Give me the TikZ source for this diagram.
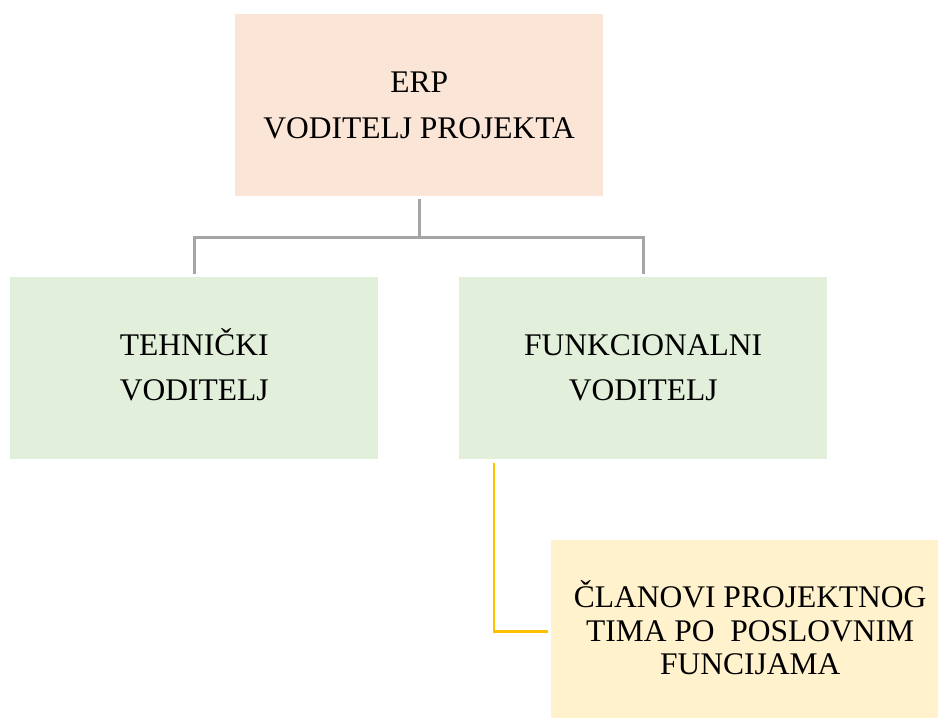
\documentclass[tikz,border=0pt]{standalone}
\usepackage{fontspec}
\setmainfont{Liberation Serif}
\newcommand{\dropfix}[1]{\rule[-#1]{0pt}{0pt}}
\begin{document}
\begin{tikzpicture}[x=1pt,y=-1pt,
  box/.style={draw=none,minimum width=368pt,minimum height=182pt,inner sep=0pt,align=center,anchor=north west},
  bigtext/.style={font=\fontsize{31.5}{45.5}\selectfont},
  smalltext/.style={font=\fontsize{31.5}{33.5}\selectfont},
  grayline/.style={draw=graycon,line width=3pt},
  goldline/.style={draw=goldcon,line width=2.6pt}]
\definecolor{peach}{HTML}{FBE5D6}
\definecolor{lgreen}{HTML}{E2EFDA}
\definecolor{lyellow}{HTML}{FFF2CC}
\definecolor{graycon}{HTML}{A5A5A5}
\definecolor{goldcon}{HTML}{FFC000}
\useasboundingbox (0,0) rectangle (938,718);
\node[box,bigtext,fill=peach] (erp) at (235,14) {ERP\\VODITELJ PROJEKTA};
\node[box,bigtext,fill=lgreen] (teh) at (10,277) {TEHNIČKI\\VODITELJ\dropfix{7pt}};
\node[box,bigtext,fill=lgreen] (funk) at (459,277) {FUNKCIONALNI\vphantom{Č}\\VODITELJ\dropfix{7pt}};
\node[box,smalltext,fill=lyellow,minimum width=398pt,minimum height=183pt] (clan) at (551,540) {ČLANOVI PROJEKTNOG\\TIMA PO\ \ POSLOVNIM\\FUNCIJAMA\dropfix{8pt}};
\coordinate (bar) at (0,237);
\draw[grayline] ([yshift=-3pt]erp.south) -- (erp.south |- bar) -| ([yshift=3pt]teh.north);
\draw[grayline] (erp.south |- bar) -| ([yshift=3pt]funk.north);
\draw[goldline] ([shift={(35pt,-4pt)}]funk.south west) |- ([xshift=-3pt]clan.west);
\end{tikzpicture}
\end{document}
